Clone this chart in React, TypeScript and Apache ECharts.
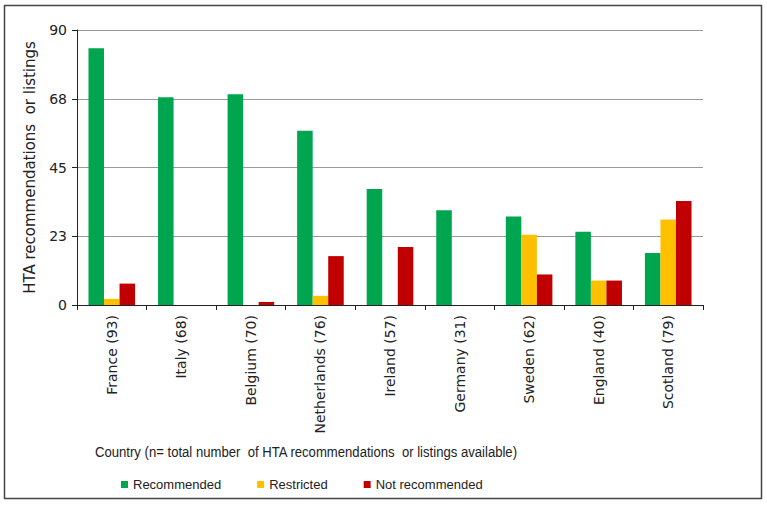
import React, { useEffect, useRef } from "react";
import * as echarts from "echarts";

const categories = [
  "France (93)",
  "Italy (68)",
  "Belgium (70)",
  "Netherlands (76)",
  "Ireland (57)",
  "Germany (31)",
  "Sweden (62)",
  "England (40)",
  "Scotland (79)",
];
const recommended = [84, 68, 69, 57, 38, 31, 29, 24, 17];
const restricted = [2, 0, 0, 3, 0, 0, 23, 8, 28];
const notRecommended = [7, 0, 1, 16, 19, 0, 10, 8, 34];
const seriesNames = ["Recommended", "Restricted", "Not recommended"];
const colors = ["#00A550", "#FFC000", "#C00000"];

export default function App() {
  const ref = useRef<HTMLDivElement>(null);
  useEffect(() => {
    document.body.style.margin = "0";
    const chart = echarts.init(ref.current!, null, { renderer: "svg" });
    const tickFont = "DejaVu Sans";
    const sans = "'Liberation Sans', Arial, sans-serif";
    chart.setOption({
      animation: false,
      backgroundColor: "#ffffff",
      grid: { left: 77, right: 64, top: 30, bottom: 200 },
      legend: {
        left: 121,
        top: 478,
        padding: 0,
        itemWidth: 7,
        itemHeight: 7,
        itemGap: 36,
        icon: "rect",
        textStyle: { fontFamily: sans, fontSize: 13, color: "#222" },
        data: seriesNames,
      },
      xAxis: {
        type: "category",
        data: categories,
        axisLine: { lineStyle: { color: "#222", width: 1 } },
        axisTick: { show: true, length: 5, lineStyle: { color: "#222" } },
        axisLabel: {
          rotate: 90,
          interval: 0,
          margin: 10,
          fontFamily: tickFont,
          fontSize: 14,
          color: "#222",
        },
      },
      yAxis: {
        type: "value",
        min: 0,
        max: 90,
        interval: 22.5,
        name: "HTA recommendations  or listings",
        nameLocation: "middle",
        nameGap: 40,
        nameTextStyle: { fontFamily: tickFont, fontSize: 15, color: "#222" },
        axisLine: { show: true, lineStyle: { color: "#222", width: 1 } },
        axisTick: { show: true, length: 5, lineStyle: { color: "#222" } },
        axisLabel: {
          margin: 10,
          fontFamily: tickFont,
          fontSize: 14,
          color: "#222",
          formatter: (v: number) => String(Math.round(v)),
        },
        splitLine: { lineStyle: { color: "#999", width: 1 } },
      },
      graphic: [
        {
          type: "rect",
          shape: { x: 4.5, y: 5.5, width: 757, height: 493 },
          style: { fill: "none", stroke: "#444", lineWidth: 1.5 },
          silent: true,
        },
        {
          type: "text",
          x: 95,
          y: 452,
          scaleX: 0.875,
          style: {
            text: "Country (n= total number  of HTA recommendations  or listings available)",
            fontFamily: sans,
            fontSize: 15,
            fill: "#222",
            verticalAlign: "middle",
          },
        },
      ],
      series: [recommended, restricted, notRecommended].map((d, i) => ({
        name: seriesNames[i],
        type: "bar",
        data: d,
        barGap: "0%",
        barCategoryGap: "33%",
        itemStyle: { color: colors[i] },
      })),
    });
    return () => chart.dispose();
  }, []);
  return <div ref={ref} style={{ width: 767, height: 505 }} />;
}
